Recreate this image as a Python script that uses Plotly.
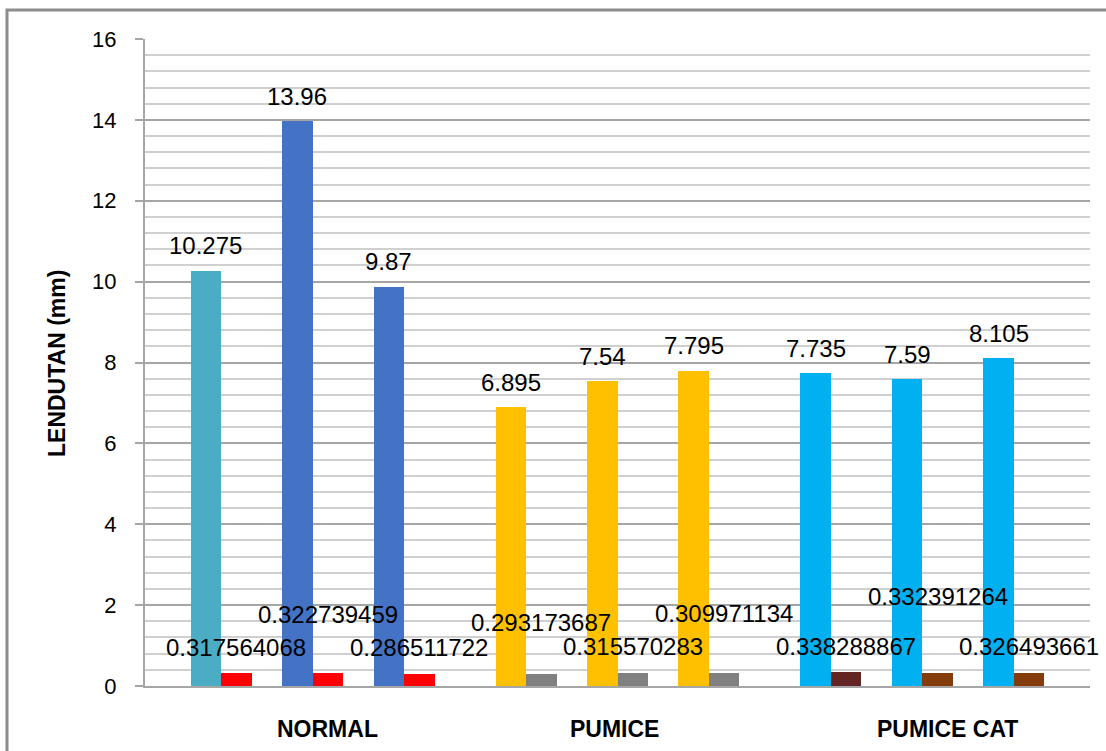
import plotly.graph_objects as go

# ---- data ----
categories = ["NORMAL", "PUMICE", "PUMICE CAT"]
tall_values = [10.275, 13.96, 9.87, 6.895, 7.54, 7.795, 7.735, 7.59, 8.105]
small_values = [0.317564068, 0.322739459, 0.286511722,
                0.293173687, 0.315570283, 0.309971134,
                0.338288867, 0.332391264, 0.326493661]
tall_colors = ["#4BACC6", "#4472C4", "#4472C4",
               "#FFC000", "#FFC000", "#FFC000",
               "#00B0F0", "#00B0F0", "#00B0F0"]
small_colors = ["#FF0000", "#FF0000", "#FF0000",
                "#808080", "#808080", "#808080",
                "#632523", "#843C0C", "#843C0C"]
tall_labels = ["10.275", "13.96", "9.87", "6.895", "7.54", "7.795", "7.735", "7.59", "8.105"]
small_labels = ["0.317564068", "0.322739459", "0.286511722",
                "0.293173687", "0.315570283", "0.309971134",
                "0.338288867", "0.332391264", "0.326493661"]

# ---- layout positions (slot units on the x axis) ----
small_label_y = [0.94, 1.76, 0.94, 1.58, 0.97, 1.80, 0.97, 2.21, 0.97]
category_label_x = [6.0, 15.39, 26.33]

tall_x, small_x = [], []
for k in range(len(tall_values)):
    g, j = divmod(k, 3)
    c = 1.5 + 10 * g + 3 * j + 0.5
    tall_x.append(c)
    small_x.append(c + 1)

fig = go.Figure()
fig.add_trace(go.Bar(x=tall_x, y=tall_values, width=1.0,
                     marker=dict(color=tall_colors, line=dict(width=0)),
                     showlegend=False, hoverinfo="y"))
fig.add_trace(go.Bar(x=small_x, y=small_values, width=1.0,
                     marker=dict(color=small_colors, line=dict(width=0)),
                     showlegend=False, hoverinfo="y"))

ann = []
FONT = "Liberation Sans, Arial, sans-serif"
for x, v, t in zip(tall_x, tall_values, tall_labels):
    ann.append(dict(x=x, y=v, xref="x", yref="y", text=t, showarrow=False,
                    yanchor="middle", yshift=25,
                    font=dict(family=FONT, size=24, color="#000000")))
for x, yv, t in zip(small_x, small_label_y, small_labels):
    ann.append(dict(x=x, y=yv, xref="x", yref="y", text=t, showarrow=False,
                    yanchor="middle",
                    font=dict(family=FONT, size=24, color="#000000")))
for x, t in zip(category_label_x, categories):
    ann.append(dict(x=x, y=0, xref="x", yref="y", text="<b>" + t + "</b>",
                    showarrow=False, yanchor="middle", yshift=-43,
                    font=dict(family=FONT, size=23, color="#000000")))
# y-axis title
ann.append(dict(x=(57 - 145) / 945, y=(686 - 364) / 647, xref="paper", yref="paper",
                text="<b>LENDUTAN (mm)</b>", textangle=-90, showarrow=False,
                xanchor="center", yanchor="middle",
                font=dict(family=FONT, size=23, color="#000000")))

fig.update_layout(
    width=1106, height=751,
    margin=dict(l=145, r=16, t=39, b=65),
    paper_bgcolor="#FFFFFF", plot_bgcolor="#FFFFFF",
    bargap=0, barmode="overlay",
    annotations=ann,
    xaxis=dict(range=[0, 31], showgrid=False, zeroline=False,
               showticklabels=False, ticks="",
               showline=True, linecolor="#A6A6A6", linewidth=2),
    yaxis=dict(range=[0, 16], dtick=2, tick0=0,
               showgrid=True, gridcolor="#A6A6A6", gridwidth=2,
               minor=dict(dtick=0.4, showgrid=True, gridcolor="#D0D0D0", gridwidth=2, ticks=""),
               zeroline=False, showline=True, linecolor="#A6A6A6", linewidth=2,
               ticks="outside", ticklen=8, tickcolor="#A6A6A6", tickwidth=2,
               ticklabelstandoff=14,
               tickfont=dict(family=FONT, size=22, color="#000000")),
    shapes=[dict(type="rect", xref="paper", yref="paper",
                 x0=(7 - 145) / 945, x1=(1120 - 145) / 945,
                 y0=(686 - 770) / 647, y1=(686 - 10) / 647,
                 line=dict(color="#8C8C8C", width=3), fillcolor="rgba(0,0,0,0)",
                 layer="below")],
)

fig.write_html("out.html")
